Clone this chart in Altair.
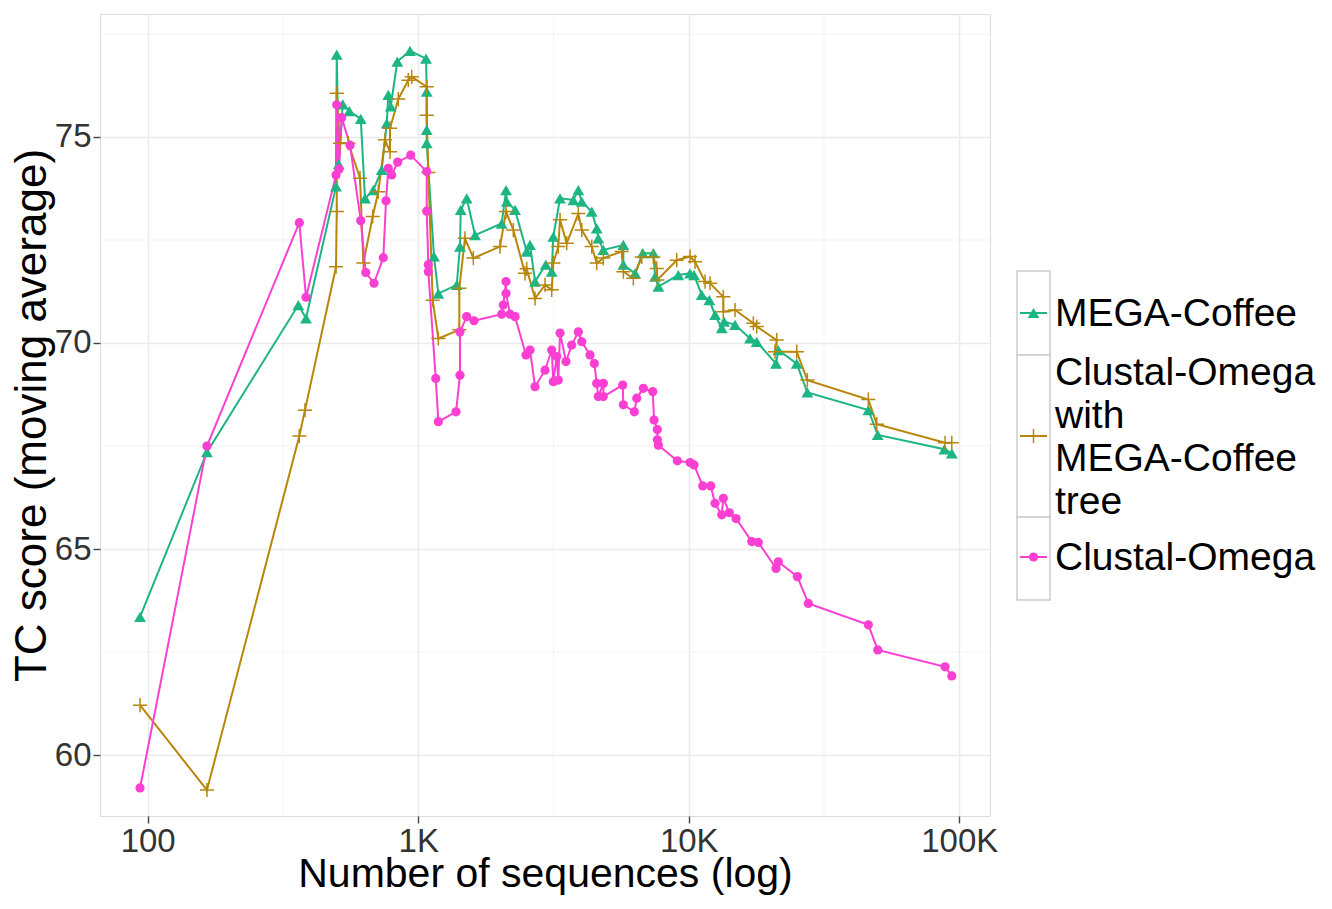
import altair as alt
import pandas as pd

# ---------------- data ----------------
series_names = ["MEGA-Coffee", "Clustal-Omega with MEGA-Coffee tree", "Clustal-Omega"]
series_colors = ["#1DB584", "#B8860B", "#FB3FD3"]

x_mega = [93.7, 165.6, 360.4, 384.8, 496.8, 499.8, 508.4, 526.1, 556.4, 613.2, 636.0, 682.3,
          732.9, 764.8, 775.3, 791.3, 837.0, 932.6, 1069, 1075, 1075, 1075, 1144, 1187, 1388,
          1427, 1436, 1511, 1622, 2035, 2112, 2125, 2280, 2518, 2590, 2703, 2961, 3115, 3158,
          3344, 3744, 3907, 4023, 4380, 4569, 4632, 4834, 5731, 5731, 6332, 6760, 7400, 7508,
          7722, 9153, 10111, 10461, 11170, 11917, 12510, 13243, 13505, 14834, 16850, 17839,
          21024, 21440, 25075, 27445, 46115, 49970, 88080, 93822]
y_mega = [63.35, 67.35, 70.92, 70.6, 73.8, 77.0, 74.34, 75.79, 75.63, 75.44, 73.51, 73.71,
          74.2, 75.33, 76.02, 75.74, 76.83, 77.09, 76.9, 76.1, 75.17, 74.85, 72.1, 71.2, 71.41,
          72.34, 73.23, 73.51, 72.62, 72.9, 73.71, 73.43, 73.23, 72.22, 72.38, 71.49, 71.9,
          71.73, 72.58, 73.51, 73.47, 73.71, 73.43, 73.19, 72.78, 72.54, 72.26, 72.38, 71.9,
          71.69, 72.18, 72.18, 71.61, 71.37, 71.65, 71.69, 71.65, 71.17, 71.04, 70.68, 70.36,
          70.52, 70.44, 70.11, 70.03, 69.5, 69.83, 69.5, 68.8, 68.37, 67.77, 67.42, 67.32]

x_tree = [93.7, 165.6, 363.5, 381.5, 496.8, 499.8, 499.8, 514.1, 551.7, 609.5, 626.9, 678.8,
          712.0, 753.8, 786.6, 786.6, 844.1, 919.2, 946.2, 1075, 1075, 1090, 1131, 1187, 1419,
          1419, 1489, 1599, 2006, 2112, 2247, 2482, 2518, 2703, 2943, 3115, 3158, 3295, 3344,
          3539, 3907, 4023, 4380, 4569, 4834, 5653, 5731, 6241, 6703, 7400, 7617, 7656, 9029,
          10111, 10551, 11487, 11988, 13424, 13424, 14834, 17330, 17839, 21149, 20846, 25075,
          27445, 46115, 49546, 88606, 93822]
y_tree = [61.21, 59.15, 67.74, 68.37, 71.85, 73.19, 76.06, 74.85, 74.85, 74.0, 71.94, 73.07,
          73.67, 74.93, 74.64, 75.21, 75.92, 76.38, 76.46, 76.22, 75.53, 74.14, 71.04, 70.11,
          70.32, 71.33, 72.54, 72.06, 72.34, 73.19, 72.74, 71.69, 71.8, 71.08, 71.41, 71.29,
          71.94, 72.34, 72.99, 72.42, 73.14, 72.74, 72.34, 71.94, 72.06, 72.22, 71.73, 71.57,
          72.09, 72.09, 71.81, 71.53, 72.01, 72.1, 71.97, 71.49, 71.45, 71.12, 70.76, 70.8,
          70.48, 70.4, 70.07, 69.79, 69.79, 69.1, 68.63, 68.03, 67.58, 67.58]

x_clo = [93.7, 165.6, 363.5, 384.8, 496.8, 499.8, 509.7, 521.6, 559.7, 613.2, 639.8, 686.4,
         743.0, 760.3, 775.3, 798.0, 839.8, 938.2, 1075, 1075, 1090, 1090, 1161, 1187, 1380,
         1427, 1427, 1511, 1608, 2035, 2063, 2112, 2112, 2185, 2280, 2503, 2590, 2703, 2943,
         3115, 3158, 3251, 3295, 3344, 3518, 3693, 3907, 4023, 4317, 4478, 4569, 4632, 4834,
         4834, 5702, 5731, 6294, 6424, 6795, 7363, 7445, 7656, 7656, 7722, 9076, 10111, 10461,
         11265, 12060, 12510, 13243, 13424, 14128, 14961, 17096, 18084, 21024, 21440, 25204,
         27679, 46115, 49970, 88606, 93822]
y_clo = [59.2, 67.5, 72.92, 71.11, 74.08, 75.78, 74.22, 75.47, 74.8, 72.97, 71.71, 71.45,
         72.07, 73.45, 74.24, 74.08, 74.39, 74.56, 74.16, 73.2, 71.9, 71.73, 69.14, 68.09, 68.33,
         69.22, 70.27, 70.64, 70.54, 70.7, 70.92, 71.49, 71.2, 70.7, 70.64, 69.71, 69.83, 68.94,
         69.34, 69.83, 69.06, 69.67, 69.1, 70.24, 69.55, 69.95, 70.27, 70.03, 69.71, 69.5,
         69.02, 68.7, 69.02, 68.7, 68.98, 68.5, 68.33, 68.66, 68.9, 68.82, 68.13, 67.9, 67.65,
         67.52, 67.14, 67.1, 67.04, 66.53, 66.53, 66.11, 65.83, 66.23, 65.88, 65.74, 65.18,
         65.16, 64.53, 64.69, 64.33, 63.68, 63.16, 62.55, 62.14, 61.92]

x_ticks = [100, 1000, 10000, 100000]
y_ticks = [60, 65, 70, 75]
x_minor = [316.23, 3162.3, 31623]
y_minor = [62.5, 67.5, 72.5, 77.5]

# ---------------- table ----------------
rows = []
for name, xs, ys in zip(series_names, [x_mega, x_tree, x_clo], [y_mega, y_tree, y_clo]):
    for i, (xv, yv) in enumerate(zip(xs, ys)):
        rows.append({"series": name, "x": xv, "y": yv, "idx": i})
df = pd.DataFrame(rows)

FONT = "Liberation Sans"
W, H = 890, 802
PAD_L, PAD_T, PAD_R, PAD_B = 92, 6, 330, 79

x_scale = alt.Scale(type="log", domain=[66.64, 129900], nice=False)
y_scale = alt.Scale(domain=[58.52, 77.985], nice=False, zero=False)
color_scale = alt.Scale(domain=series_names, range=series_colors)

x_axis = alt.Axis(values=x_ticks, title="Number of sequences (log)",
                  labelExpr="datum.value >= 1000 ? format(datum.value/1000, 'd') + 'K' : format(datum.value, 'd')",
                  grid=True, gridColor="#EBEBEB", gridWidth=1.6, domain=False,
                  tickColor="#444444", tickSize=7, tickWidth=1.4,
                  labelFont=FONT, labelFontSize=33, labelColor="#333333", labelPadding=2,
                  labelFlush=False,
                  titleFont=FONT, titleFontSize=41, titleFontWeight="normal", titleColor="#000000",
                  titleBaseline="alphabetic", titleY=70)
y_axis = alt.Axis(values=y_ticks, title="TC score (moving average)",
                  grid=True, gridColor="#EBEBEB", gridWidth=1.6, domain=False,
                  tickColor="#444444", tickSize=7, tickWidth=1.4,
                  labelFont=FONT, labelFontSize=33, labelColor="#333333", labelPadding=2,
                  titleFont=FONT, titleFontSize=44, titleFontWeight="normal", titleColor="#000000",
                  titlePadding=0)

base = alt.Chart(df)

minor_x = alt.Chart(pd.DataFrame({"v": x_minor})).mark_rule(color="#F3F3F3", strokeWidth=1).encode(
    x=alt.X("v:Q", scale=x_scale, axis=x_axis))
minor_y = alt.Chart(pd.DataFrame({"v": y_minor})).mark_rule(color="#F3F3F3", strokeWidth=1).encode(
    y=alt.Y("v:Q", scale=y_scale, axis=y_axis))

enc = dict(
    x=alt.X("x:Q", scale=x_scale, axis=x_axis),
    y=alt.Y("y:Q", scale=y_scale, axis=y_axis),
    color=alt.Color("series:N", scale=color_scale, legend=None),
)

lines = base.mark_line(strokeWidth=2).encode(
    detail="series:N", order=alt.Order("idx:Q"), **enc)

TRI_SIZE, CIR_SIZE, CRS_SIZE = 140, 85, 200
tri = base.transform_filter(alt.datum.series == series_names[0]).mark_point(
    shape="triangle-up", filled=True, size=TRI_SIZE, opacity=1).encode(**enc)
crs = base.transform_filter(alt.datum.series == series_names[1]).mark_point(
    shape="M-1,0H1M0,-1V1", filled=False, size=CRS_SIZE, strokeWidth=1.5, opacity=1).encode(**enc)
cir = base.transform_filter(alt.datum.series == series_names[2]).mark_point(
    shape="circle", filled=True, size=CIR_SIZE, opacity=1).encode(**enc)

# ---------------- legend (drawn beside the panel) ----------------
one = pd.DataFrame({"a": [0]})
leg_layers = []
box_x0, box_x1 = 917, 950
boxes = [(257, 341), (341, 503), (503, 586)]
centers = [299, 422, 543]
label_y = [300, 359, 544]
labels = ["MEGA-Coffee", "Clustal-Omega\nwith\nMEGA-Coffee\ntree", "Clustal-Omega"]
shapes = ["triangle-up", "M-1,0H1M0,-1V1", "circle"]
for i in range(3):
    t, b = boxes[i]
    leg_layers.append(alt.Chart(one).mark_rect(fill="white", stroke="#CCCCCC", strokeWidth=1.5).encode(
        x=alt.value(box_x0), x2=alt.value(box_x1), y=alt.value(t), y2=alt.value(b)))
for i in range(3):
    c = centers[i]
    leg_layers.append(alt.Chart(one).mark_rule(color=series_colors[i], strokeWidth=2).encode(
        x=alt.value(box_x0 + 3), x2=alt.value(box_x1 - 3), y=alt.value(c)))
    if i == 1:
        pt = alt.Chart(one).mark_point(shape=shapes[i], filled=False, size=CRS_SIZE, strokeWidth=1.5,
                                       opacity=1, color=series_colors[i])
    else:
        pt = alt.Chart(one).mark_point(shape=shapes[i], filled=True,
                                       size=TRI_SIZE if i == 0 else CIR_SIZE,
                                       opacity=1, color=series_colors[i])
    leg_layers.append(pt.encode(x=alt.value((box_x0 + box_x1) / 2), y=alt.value(c)))
    leg_layers.append(alt.Chart(one).mark_text(
        text=labels[i], lineBreak="\n", lineHeight=43, align="left", baseline="middle",
        font=FONT, fontSize=39, color="#000000").encode(
        x=alt.value(955), y=alt.value(label_y[i])))

chart = alt.layer(minor_x, minor_y, lines, tri, crs, cir, *leg_layers).properties(
    width=W, height=H,
    autosize=alt.AutoSizeParams(type="none"),
    padding={"left": PAD_L, "top": PAD_T, "right": PAD_R, "bottom": PAD_B},
).configure_view(stroke="#AAAAAA", strokeWidth=1.3).configure(background="white")

chart.save("out.html", embed_options={"renderer": "svg", "actions": False})
